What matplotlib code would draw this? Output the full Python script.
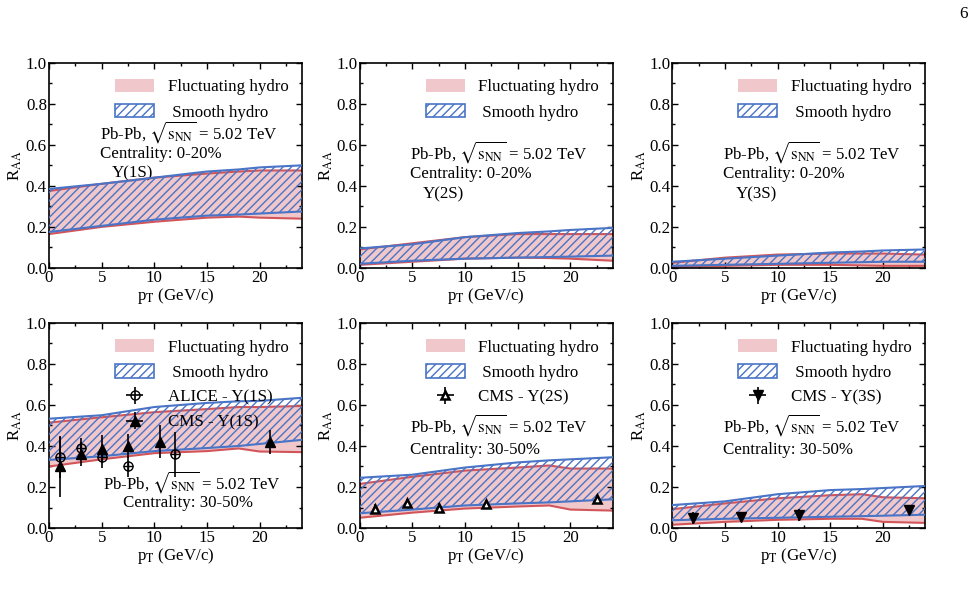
import numpy as np
import matplotlib
matplotlib.use("Agg")
import matplotlib.pyplot as plt
from matplotlib.patches import Patch
from matplotlib.ticker import MultipleLocator

plt.rcParams['font.family'] = ['Liberation Serif', 'DejaVu Serif']
plt.rcParams['mathtext.fontset'] = 'stix'
plt.rcParams['hatch.linewidth'] = 1.0
FS = 12.2

# ---------------- data ----------------
pt = [0, 5, 10, 15, 18, 20, 24]

# Panel 1: 0-20%, Y(1S)
p1_fl_hi = [0.375, 0.41, 0.44, 0.46, 0.47, 0.475, 0.475]
p1_fl_lo = [0.165, 0.20, 0.225, 0.245, 0.25, 0.245, 0.24]
p1_sm_hi = [0.385, 0.41, 0.44, 0.47, 0.48, 0.49, 0.50]
p1_sm_lo = [0.175, 0.205, 0.235, 0.255, 0.26, 0.265, 0.275]

# Panel 2: 0-20%, Y(2S)
p2_fl_hi = [0.09, 0.12, 0.15, 0.165, 0.165, 0.165, 0.165]
p2_fl_lo = [0.015, 0.03, 0.045, 0.05, 0.048, 0.045, 0.035]
p2_sm_hi = [0.095, 0.115, 0.15, 0.17, 0.178, 0.185, 0.195]
p2_sm_lo = [0.02, 0.035, 0.045, 0.05, 0.053, 0.055, 0.06]

# Panel 3: 0-20%, Y(3S)
p3_fl_hi = [0.025, 0.05, 0.065, 0.07, 0.07, 0.07, 0.065]
p3_fl_lo = [0.005, 0.01, 0.015, 0.015, 0.012, 0.01, 0.01]
p3_sm_hi = [0.03, 0.045, 0.06, 0.075, 0.08, 0.085, 0.09]
p3_sm_lo = [0.01, 0.015, 0.02, 0.025, 0.028, 0.03, 0.03]

# Panel 4: 30-50%, Y(1S)
p4_fl_hi = [0.514, 0.54, 0.565, 0.58, 0.59, 0.59, 0.595]
p4_fl_lo = [0.30, 0.335, 0.365, 0.375, 0.388, 0.373, 0.37]
p4_sm_hi = [0.533, 0.55, 0.59, 0.61, 0.618, 0.62, 0.635]
p4_sm_lo = [0.332, 0.35, 0.375, 0.39, 0.40, 0.41, 0.43]

# Panel 5: 30-50%, Y(2S)
p5_fl_hi = [0.215, 0.25, 0.28, 0.295, 0.305, 0.29, 0.29]
p5_fl_lo = [0.05, 0.075, 0.095, 0.105, 0.11, 0.09, 0.085]
p5_sm_hi = [0.245, 0.26, 0.295, 0.32, 0.33, 0.335, 0.345]
p5_sm_lo = [0.072, 0.09, 0.11, 0.12, 0.125, 0.13, 0.14]

# Panel 6: 30-50%, Y(3S)
p6_fl_hi = [0.092, 0.12, 0.145, 0.16, 0.165, 0.15, 0.145]
p6_fl_lo = [0.016, 0.03, 0.04, 0.045, 0.045, 0.03, 0.025]
p6_sm_hi = [0.112, 0.13, 0.165, 0.185, 0.19, 0.195, 0.205]
p6_sm_lo = [0.038, 0.045, 0.05, 0.055, 0.058, 0.06, 0.065]

# Experimental data
alice1s_pt = [1, 3, 5, 7.5, 12]
alice1s_r = [0.345, 0.39, 0.345, 0.30, 0.36]
alice1s_err = [0.1, 0.05, 0.05, 0.05, 0.11]

cms1s_pt = [1, 3, 5, 7.5, 10.5, 21]
cms1s_r = [0.30, 0.36, 0.385, 0.40, 0.42, 0.42]
cms1s_err = [0.15, 0.06, 0.07, 0.06, 0.08, 0.06]

cms2s_pt = [1.5, 4.5, 7.5, 12, 22.5]
cms2s_r = [0.095, 0.12, 0.10, 0.115, 0.14]
cms2s_err = [0.02, 0.02, 0.02, 0.02, 0.02]

cms3s_pt = [2, 6.5, 12, 22.5]
cms3s_r = [0.05, 0.055, 0.065, 0.09]
cms3s_err = [0.03, 0.025, 0.03, 0.02]

# ---------------- style ----------------
PINK = '#f0c7ca'
RED = '#d2555a'
BLUE = '#4a74c6'

fig = plt.figure(figsize=(9.8, 5.98), dpi=100)
lefts = [0.050, 0.367, 0.686]
bottoms = [0.552, 0.117]
W, H = 0.258, 0.343

energy = r'Pb-Pb, $\sqrt{\mathrm{s}_{\rm NN}}$ = 5.02 TeV'


def bands(ax, fl_hi, fl_lo, sm_hi, sm_lo):
    ax.fill_between(pt, fl_lo, fl_hi, facecolor=PINK, edgecolor='none', zorder=1)
    ax.plot(pt, fl_hi, color=RED, lw=1.5, zorder=2)
    ax.plot(pt, fl_lo, color=RED, lw=1.5, zorder=2)
    ax.fill_between(pt, sm_lo, sm_hi, facecolor='none', edgecolor=BLUE,
                    hatch='////', lw=0, zorder=3)
    ax.plot(pt, sm_hi, color=BLUE, lw=1.5, zorder=4)
    ax.plot(pt, sm_lo, color=BLUE, lw=1.5, zorder=4)


def style(ax):
    ax.set_xlim(0, 24)
    ax.set_ylim(0, 1.0)
    ax.xaxis.set_major_locator(MultipleLocator(5))
    ax.xaxis.set_minor_locator(MultipleLocator(2.5))
    ax.yaxis.set_minor_locator(MultipleLocator(0.1))
    ax.set_yticks([0, 0.2, 0.4, 0.6, 0.8, 1.0])
    ax.set_yticklabels(['0.0', '0.2', '0.4', '0.6', '0.8', '1.0'])
    ax.tick_params(which='both', direction='in', top=True, right=True,
                   labelsize=FS, pad=1.5)
    ax.tick_params(which='major', length=4, width=1)
    ax.tick_params(which='minor', length=2.5, width=1)
    for s in ax.spines.values():
        s.set_linewidth(1.2)
    ax.set_xlabel(r'p$_{\rm T}$ (GeV/c)', fontsize=FS, labelpad=0)
    ax.set_ylabel(r'R$_{\rm AA}$', fontsize=FS, labelpad=1)


band_handles = [Patch(facecolor=PINK, edgecolor='none'),
                Patch(facecolor='white', edgecolor=BLUE, hatch='////', lw=1.2)]
band_labels = ['Fluctuating hydro', ' Smooth hydro']

panels = [
    (p1_fl_hi, p1_fl_lo, p1_sm_hi, p1_sm_lo),
    (p2_fl_hi, p2_fl_lo, p2_sm_hi, p2_sm_lo),
    (p3_fl_hi, p3_fl_lo, p3_sm_hi, p3_sm_lo),
    (p4_fl_hi, p4_fl_lo, p4_sm_hi, p4_sm_lo),
    (p5_fl_hi, p5_fl_lo, p5_sm_hi, p5_sm_lo),
    (p6_fl_hi, p6_fl_lo, p6_sm_hi, p6_sm_lo),
]

axes = []
for i, data in enumerate(panels):
    r, c = divmod(i, 3)
    ax = fig.add_axes([lefts[c], bottoms[r], W, H])
    bands(ax, *data)
    style(ax)
    axes.append(ax)


def add_legend(ax, handles, labels):
    ax.legend(handles, labels, loc='upper left', bbox_to_anchor=(0.235, 0.955),
              frameon=False, fontsize=FS, handlelength=2.3, handleheight=0.85,
              handletextpad=0.8, labelspacing=0.5, borderaxespad=0)


# Top row
states = ['Υ(1S)', 'Υ(2S)', 'Υ(3S)']
for i in range(3):
    ax = axes[i]
    add_legend(ax, band_handles, band_labels)
    if i == 0:
        ax.text(0.20, 0.66, energy, transform=ax.transAxes, fontsize=FS, va='center')
        ax.text(0.20, 0.556, 'Centrality: 0-20%', transform=ax.transAxes, fontsize=FS, va='center')
        ax.text(0.25, 0.46, states[i], transform=ax.transAxes, fontsize=FS, va='center')
    else:
        ax.text(0.20, 0.5625, energy, transform=ax.transAxes, fontsize=FS, va='center')
        ax.text(0.20, 0.458, 'Centrality: 0-20%', transform=ax.transAxes, fontsize=FS, va='center')
        ax.text(0.25, 0.36, states[i], transform=ax.transAxes, fontsize=FS, va='center')

# Bottom row
ax = axes[3]
ha = ax.errorbar(alice1s_pt, alice1s_r, yerr=alice1s_err, xerr=np.zeros(len(alice1s_pt)),
                 fmt='o', ms=6.5, mfc='none', mec='black', mew=1.0, ecolor='black',
                 elinewidth=1.2, capsize=0, zorder=6)
ax.plot(alice1s_pt, alice1s_r, '+', ms=6.5, color='black', mew=1.0, zorder=6)
hc = ax.errorbar(cms1s_pt, cms1s_r, yerr=cms1s_err, xerr=np.zeros(len(cms1s_pt)),
                 fmt='^', ms=7, color='black', ecolor='black', elinewidth=1.2,
                 capsize=0, zorder=6)
add_legend(ax, band_handles + [ha, hc],
           band_labels + ['ALICE - Υ(1S)', 'CMS - Υ(1S)'])
ax.text(0.565, 0.224, energy, transform=ax.transAxes, fontsize=FS, va='center', ha='center')
ax.text(0.55, 0.12, 'Centrality: 30-50%', transform=ax.transAxes, fontsize=FS, va='center', ha='center')

ax = axes[4]
h2 = ax.errorbar(cms2s_pt, cms2s_r, yerr=cms2s_err, xerr=np.zeros(len(cms2s_pt)),
                 fmt='^', ms=6, mfc='white', mec='black', mew=1.8, ecolor='black',
                 elinewidth=1.2, capsize=0, zorder=6)
add_legend(ax, band_handles + [h2], band_labels + ['CMS - Υ(2S)'])
ax.text(0.20, 0.502, energy, transform=ax.transAxes, fontsize=FS, va='center')
ax.text(0.20, 0.38, 'Centrality: 30-50%', transform=ax.transAxes, fontsize=FS, va='center')

ax = axes[5]
h3 = ax.errorbar(cms3s_pt, cms3s_r, yerr=cms3s_err, xerr=np.zeros(len(cms3s_pt)),
                 fmt='v', ms=7, color='black', ecolor='black', elinewidth=1.2,
                 capsize=0, zorder=6)
add_legend(ax, band_handles + [h3], band_labels + ['CMS - Υ(3S)'])
ax.text(0.20, 0.502, energy, transform=ax.transAxes, fontsize=FS, va='center')
ax.text(0.20, 0.38, 'Centrality: 30-50%', transform=ax.transAxes, fontsize=FS, va='center')

fig.text(0.988, 0.977, '6', fontsize=FS, ha='right', va='center')

fig.savefig('out.png', dpi=100)
